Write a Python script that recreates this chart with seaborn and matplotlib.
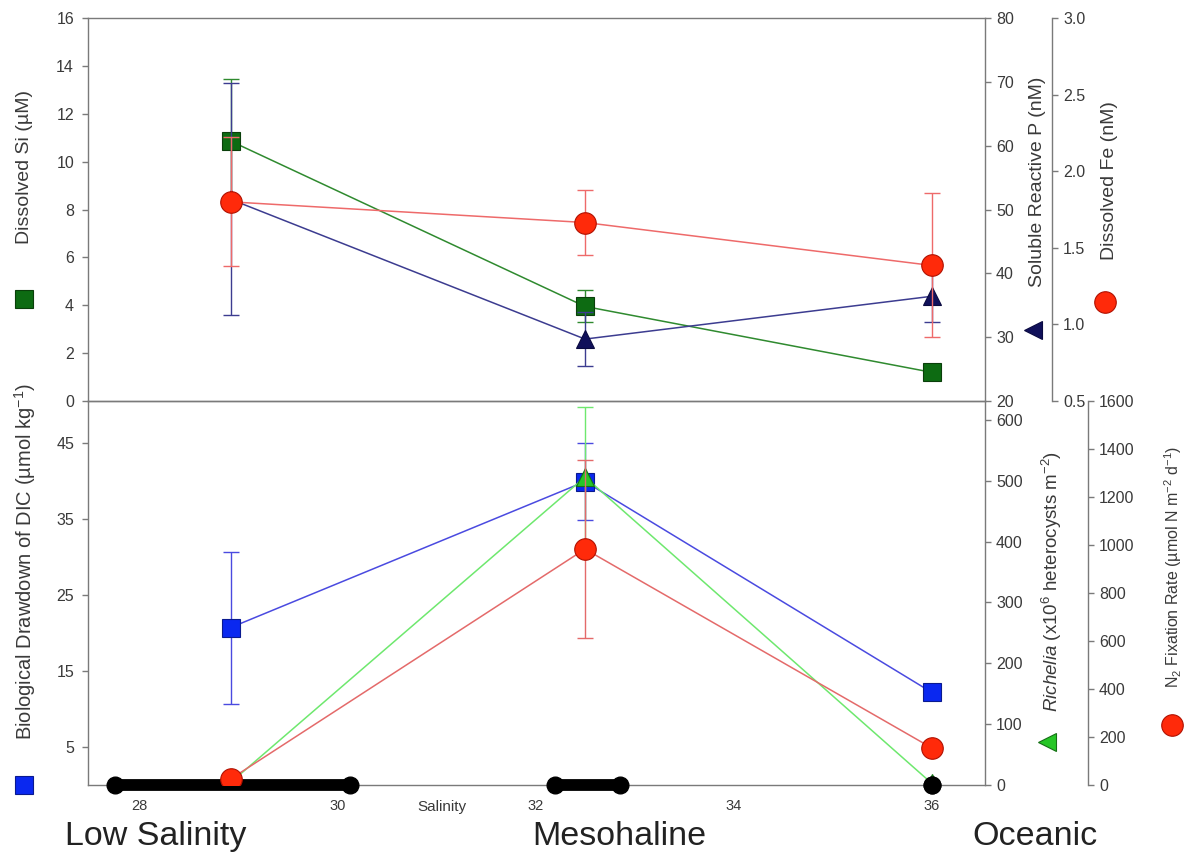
import numpy as np
import pandas as pd
import matplotlib
matplotlib.use('Agg')
import matplotlib.pyplot as plt
import matplotlib.transforms as mtransforms
from matplotlib.lines import Line2D
from matplotlib import font_manager
import seaborn as sns

# ---------------- data ----------------
salinity = [28.92, 32.5, 36.0]
si = [10.86, 3.95, 1.2]
si_err = [2.6, 0.67, 0.0]
srp = [51.6, 29.7, 36.4]
srp_err = [18.2, 4.2, 4.1]
fe = [1.80, 1.665, 1.385]
fe_err = [0.42, 0.21, 0.47]
dic = [20.7, 39.9, 12.2]
dic_err = [10.0, 5.1, 0.0]
richelia = [4, 506, 3]
richelia_err = [0, 115, 0]
n2fix = [25, 983, 155]
n2fix_err = [0, 372, 0]
salinity_lo = [27.75, 32.2, 36.0]
salinity_hi = [30.13, 32.85, 36.0]
regimes = ['Low Salinity', 'Mesohaline', 'Oceanic']
regime_x = [28.16, 32.85, 37.04]
x_ticks = [28, 30, 32, 34, 36]

sns.set_theme(style='white')
plt.rcParams['font.family'] = ['Liberation Sans', 'DejaVu Sans']
plt.rcParams['mathtext.fontset'] = 'custom'
plt.rcParams['mathtext.rm'] = 'Liberation Sans'
plt.rcParams['mathtext.it'] = 'Liberation Sans:italic'

installed = {f.name for f in font_manager.fontManager.ttflist}
narrow = 'Liberation Sans Narrow' if 'Liberation Sans Narrow' in installed else 'Liberation Sans'

SPINE = '#7a7a7a'
TXT = '#3a3a3a'

fig = plt.figure(figsize=(11.89, 8.52), dpi=100)
L, W = 88 / 1189, (985 - 88) / 1189
ax_top = fig.add_axes([L, 1 - 401 / 852, W, 383 / 852])
ax_bot = fig.add_axes([L, 1 - 785 / 852, W, 384 / 852])
ax_p = ax_top.twinx()
ax_fe = ax_top.twinx()
ax_ri = ax_bot.twinx()
ax_n2 = ax_bot.twinx()

for a in (ax_top, ax_bot, ax_p, ax_fe, ax_ri, ax_n2):
    a.set_facecolor('none')
    for s in a.spines.values():
        s.set_color(SPINE)
        s.set_linewidth(1.0)
    a.tick_params(colors=SPINE, labelcolor=TXT, labelsize=11.5, length=4, width=1)
    a.set_xlim(27.48, 36.54)

for a in (ax_p, ax_fe, ax_ri, ax_n2):
    for side in ('left', 'top', 'bottom'):
        a.spines[side].set_visible(False)
ax_top.spines['right'].set_visible(False)
ax_bot.spines['right'].set_visible(False)
ax_fe.spines['right'].set_position(('axes', 1 + (1052 - 985) / 897))
ax_n2.spines['right'].set_position(('axes', 1 + (1088 - 985) / 897))


def series(ax, y, err, line_c, face_c, edge_c, marker, ms):
    xs = [x for x, e in zip(salinity, err) if e > 0]
    ys = [v for v, e in zip(y, err) if e > 0]
    es = [e for e in err if e > 0]
    if xs:
        ax.errorbar(xs, ys, yerr=es, fmt='none', ecolor=line_c, elinewidth=1,
                    capsize=6, capthick=1, zorder=2)
    df = pd.DataFrame({'Salinity': salinity, 'value': y})
    sns.lineplot(data=df, x='Salinity', y='value', ax=ax, color=line_c,
                 linewidth=1.1, marker=marker, markersize=ms,
                 markerfacecolor=face_c, markeredgecolor=edge_c,
                 markeredgewidth=0.8, legend=False, sort=False, zorder=3)
    ax.set_xlabel('')
    ax.set_ylabel('')


# ---------------- top panel ----------------
series(ax_top, si, si_err, '#2f8a2f', '#0d6b12', '#0a3f0a', 's', 12.5)
series(ax_p, srp, srp_err, '#3c3c90', '#10105a', '#0a0a40', '^', 12.5)
series(ax_fe, fe, fe_err, '#ee6a6a', '#ff2a0a', '#b01000', 'o', 15.5)

ax_top.set_ylim(0, 16)
ax_top.set_yticks(range(0, 17, 2))
ax_p.set_ylim(20, 80)
ax_p.set_yticks(range(20, 81, 10))
ax_fe.set_ylim(0.5, 3.0)
ax_fe.set_yticks([0.5, 1.0, 1.5, 2.0, 2.5, 3.0])
ax_fe.set_yticklabels(['0.5', '1.0', '1.5', '2.0', '2.5', '3.0'])
ax_top.tick_params(axis='x', labelbottom=False, length=0)

# ---------------- bottom panel ----------------
series(ax_bot, dic, dic_err, '#4a4ae0', '#0a28f0', '#0a1a90', 's', 12.5)
series(ax_ri, richelia, richelia_err, '#6ee86e', '#26c626', '#157015', '^', 12.5)

for lo, hi in zip(salinity_lo, salinity_hi):
    ax_ri.plot([lo, hi], [0, 0], color='black', lw=8.5, solid_capstyle='butt',
               marker='o', ms=12, mfc='black', mec='black', clip_on=False, zorder=6)

series(ax_n2, n2fix, n2fix_err, '#e46a6a', '#ff2a0a', '#b01000', 'o', 15.5)

ax_bot.set_ylim(0, 50.5)
ax_bot.set_yticks([5, 15, 25, 35, 45])
ax_ri.set_ylim(0, 631)
ax_ri.set_yticks(range(0, 601, 100))
ax_n2.set_ylim(0, 1600)
ax_n2.set_yticks(range(0, 1601, 200))
ax_bot.set_xticks(x_ticks)
ax_bot.set_xticklabels([str(t) for t in x_ticks])
ax_bot.tick_params(axis='x', direction='in', length=4, labelsize=10.5, pad=10)
ax_bot.text(31.05, -0.057, 'Salinity', transform=ax_bot.get_xaxis_transform(),
            ha='center', va='center', fontsize=11, color=TXT)

for a in (ax_top, ax_bot):
    a.tick_params(axis='y', pad=6)
for a in (ax_p, ax_fe, ax_ri, ax_n2):
    a.tick_params(axis='y', pad=4)

# ---------------- axis titles with symbol keys ----------------
def fig_y(px):
    return 1 - px / 852

def fig_x(px):
    return px / 1189

fig.text(fig_x(25), fig_y(167), 'Dissolved Si (µM)', rotation=90, ha='center',
         va='center', fontsize=14, color=TXT)
fig.text(fig_x(25), fig_y(562), 'Biological Drawdown of DIC (µmol kg$^{-1}$)',
         rotation=90, ha='center', va='center', fontsize=14.5, color=TXT)
fig.text(fig_x(1038), fig_y(182), 'Soluble Reactive P (nM)', rotation=90,
         ha='center', va='center', fontsize=14, color=TXT)
fig.text(fig_x(1110), fig_y(181), 'Dissolved Fe (nM)', rotation=90,
         ha='center', va='center', fontsize=14, color=TXT)
fig.text(fig_x(1052), fig_y(581),
         r'$\it{Richelia}$ (x10$^{6}$ heterocysts m$^{-2}$)', rotation=90,
         ha='center', va='center', fontsize=13.5, color=TXT)
fig.text(fig_x(1173), fig_y(567),
         r'N$_2$ Fixation Rate (µmol N m$^{-2}$ d$^{-1}$)', rotation=90,
         ha='center', va='center', fontsize=11.5, color=TXT)

keys = [
    (24, 299, 's', '#0d6b12', '#0a3f0a', 12.5),
    (24, 785, 's', '#0a28f0', '#0a1a90', 12.5),
    (1033, 330, '<', '#10105a', '#0a0a40', 13),
    (1105, 302, 'o', '#ff2a0a', '#b01000', 15.5),
    (1047, 742, '<', '#26c626', '#157015', 13),
    (1172, 725, 'o', '#ff2a0a', '#b01000', 15.5),
]
for px, py, mk, fc, ec, ms in keys:
    fig.add_artist(Line2D([fig_x(px)], [fig_y(py)], marker=mk, ms=ms, mfc=fc,
                          mec=ec, mew=0.8, linestyle='none',
                          transform=fig.transFigure))

# ---------------- regime names ----------------
trans = mtransforms.blended_transform_factory(ax_bot.transData, fig.transFigure)
for name, xr in zip(regimes, regime_x):
    ax_bot.text(xr, fig_y(845), name, transform=trans, ha='center',
                va='baseline', fontsize=24.5, color='#222222',
                family=[narrow, 'DejaVu Sans'], clip_on=False)

fig.savefig('out.png', dpi=100)
